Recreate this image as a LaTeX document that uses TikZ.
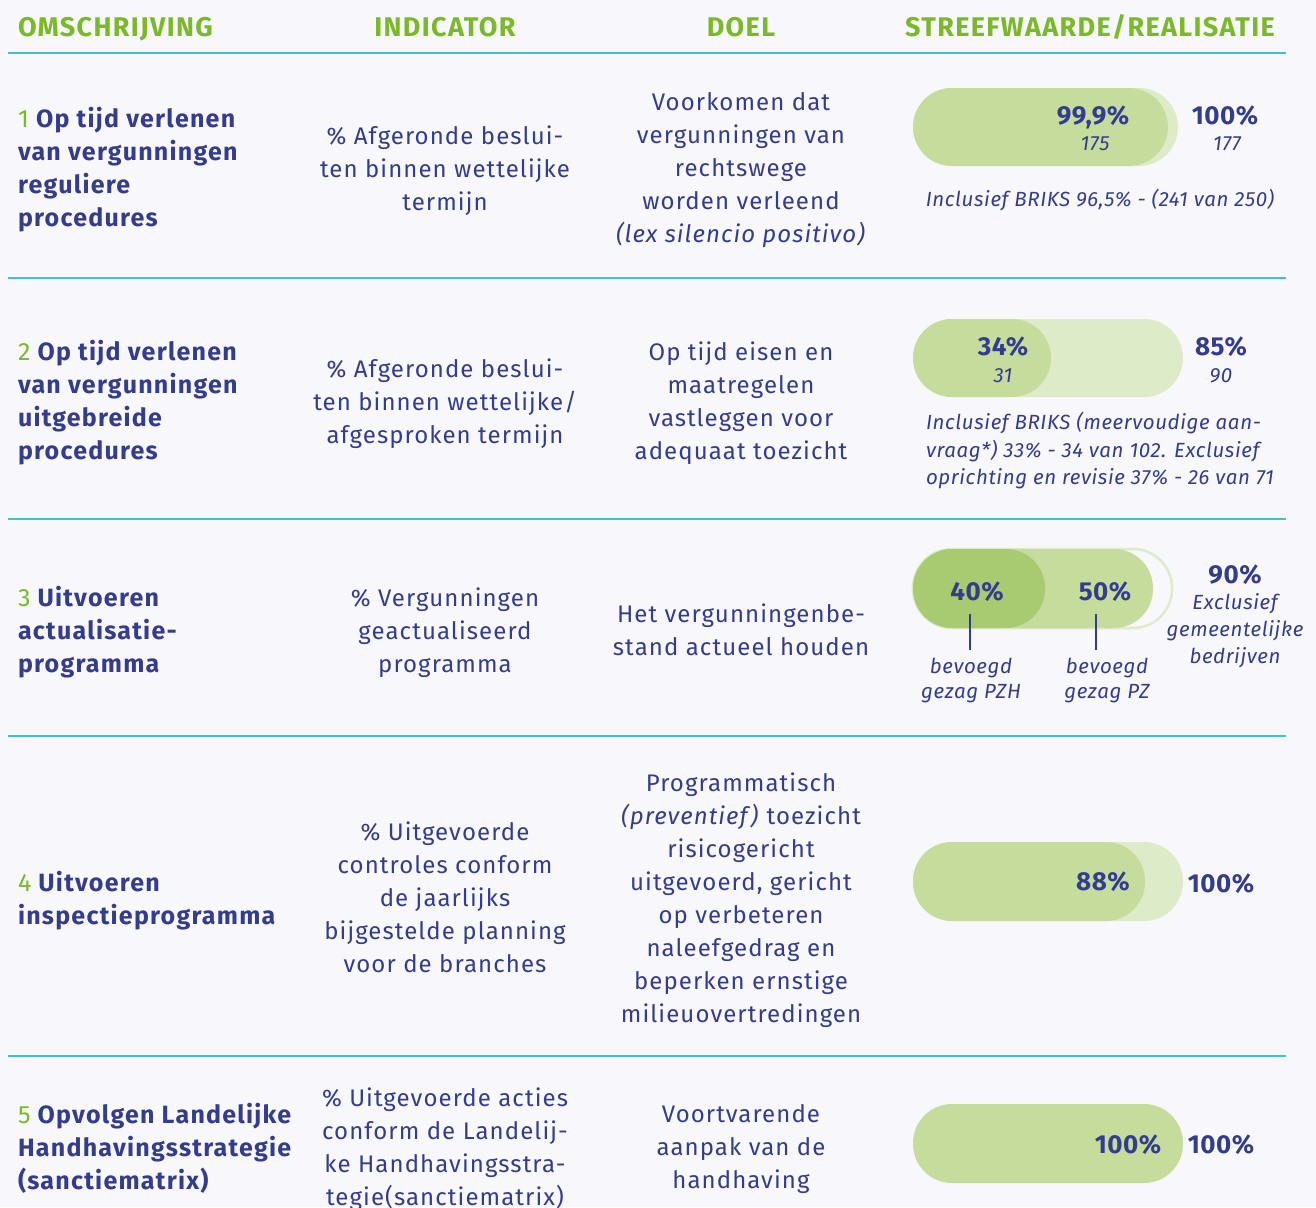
\documentclass[tikz,border=0pt]{standalone}
\usepackage{fontspec}
\setmainfont{Fira Sans}
\newfontfamily\hfont[LetterSpace=5]{Fira Sans}
\newfontfamily\bodyf[LetterSpace=4.5]{Fira Sans}
\newfontfamily\boldf[LetterSpace=5]{Fira Sans}
\newfontfamily\notef[LetterSpace=3]{Fira Sans}
\newfontfamily\bigf[LetterSpace=2]{Fira Sans}
\definecolor{bgc}{HTML}{F7F7FC}
\definecolor{txt}{HTML}{343C8E}
\definecolor{hgreen}{HTML}{7AB929}
\definecolor{lineteal}{HTML}{3FBFD1}
\definecolor{gDark}{HTML}{A8CB71}
\definecolor{gMid}{HTML}{C6DC9D}
\definecolor{gLight}{HTML}{DDEBC8}
\begin{document}
\begin{tikzpicture}[x=1pt,y=-1pt,
  every node/.style={inner sep=0pt, outer sep=0pt, text=txt},
  hdr/.style={font=\hfont\bfseries\fontsize{27}{30}\selectfont, text=hgreen, anchor=base},
  lcol/.style={font=\boldf\bfseries\fontsize{25}{33}\selectfont, align=left, anchor=north west, execute at begin node=\strut},
  ccol/.style={font=\bodyf\fontsize{24}{33}\selectfont, align=center, anchor=north, execute at begin node=\strut},
  big/.style={font=\bigf\bfseries\fontsize{26}{30}\selectfont, anchor=base},
  sub/.style={font=\notef\itshape\fontsize{20.5}{27}\selectfont, anchor=base},
  note/.style={font=\notef\itshape\fontsize{20.5}{27.5}\selectfont, align=left, anchor=north west, execute at begin node=\strut},
  notec/.style={font=\notef\itshape\fontsize{20.5}{27}\selectfont, align=center, anchor=north, execute at begin node=\strut},
  lbl/.style={font=\notef\itshape\fontsize{20.5}{25}\selectfont, align=center, anchor=north, execute at begin node=\strut},
  sep/.style={draw=lineteal, line width=2pt},
  pill/.style={rounded corners=39pt},
  tick/.style={draw=txt, line width=1.2pt}
]
\fill[bgc] (0,0) rectangle (1316,1207);
\useasboundingbox (0,0) rectangle (1316,1207);

% header
\node[hdr, anchor=base west] (h1) at (18,37) {OMSCHRIJVING};
\node[hdr] (h2) at (445,37) {INDICATOR};
\node[hdr] (h3) at (741,37) {DOEL};
\node[hdr] (h4) at (1090,37) {STREEFWAARDE/REALISATIE};

% separators
\foreach \yy in {53,278,519,736,1056} \draw[sep] (8,\yy) -- (1286,\yy);

% column 1
\node[lcol] (r1a) at (18,107) {{\color{hgreen}\mdseries 1} Op tijd verlenen\\van vergunningen\\reguliere\\procedures};
\node[lcol] (r2a) at (18,340) {{\color{hgreen}\mdseries 2} Op tijd verlenen\\van vergunningen\\uitgebreide\\procedures};
\node[lcol] (r3a) at (18,586) {{\color{hgreen}\mdseries 3} Uitvoeren\\actualisatie-\\programma};
\node[lcol] (r4a) at (18,871) {{\color{hgreen}\mdseries 4} Uitvoeren\\inspectieprogramma};
\node[lcol] (r5a) at (18,1103) {{\color{hgreen}\mdseries 5} Opvolgen Landelijke\\Handhavingsstrategie\\(sanctiematrix)};

% column 2
\node[ccol] (r1b) at (445,125.5) {\% Afgeronde beslui-\\ten binnen wettelijke\\termijn};
\node[ccol] (r2b) at (445,358.5) {\% Afgeronde beslui-\\ten binnen wettelijke/\\afgesproken termijn};
\node[ccol] (r3b) at (445,587.5) {\% Vergunningen\\geactualiseerd\\programma};
\node[ccol] (r4b) at (445,821.5) {\% Uitgevoerde\\controles conform\\de jaarlijks\\bijgestelde planning\\voor de branches};
\node[ccol] (r5b) at (445,1087.5) {\% Uitgevoerde acties\\conform de Landelij-\\ke Handhavingsstra-\\tegie(sanctiematrix)};

% column 3
\node[ccol] (r1c) at (741,92.5) {Voorkomen dat\\vergunningen van\\rechtswege\\worden verleend\\\textit{(lex silencio positivo)}};
\node[ccol] (r2c) at (741,341.5) {Op tijd eisen en\\maatregelen\\vastleggen voor\\adequaat toezicht};
\node[ccol] (r3c) at (741,603.5) {Het vergunningenbe-\\stand actueel houden};
\node[ccol] (r4c) at (741,772.5) {Programmatisch\\\textit{(preventief)} toezicht\\risicogericht\\uitgevoerd, gericht\\op verbeteren\\naleefgedrag en\\beperken ernstige\\milieuovertredingen};
\node[ccol] (r5c) at (741,1104.5) {Voortvarende\\aanpak van de\\handhaving};

% row 1 bars
\fill[gLight, pill] (913,88) rectangle (1178,166);
\fill[gMid, pill] (913,88) rectangle (1168,166);
\node[big] (v1a) at (1093,124) {99,9\%};
\node[sub] (v1b) at (1095,150) {175};
\node[big] (v1c) at (1225,124) {100\%};
\node[sub] (v1d) at (1227,150) {177};
\node[sub] (n1) at (1100,206) {Inclusief BRIKS 96,5\% - (241 van 250)};

% row 2 bars
\fill[gLight, pill] (913,319) rectangle (1183,397);
\fill[gMid, pill] (913,319) rectangle (1051,397);
\node[big] (v2a) at (1003,355) {34\%};
\node[sub] (v2b) at (1003,382) {31};
\node[big] (v2c) at (1221,355) {85\%};
\node[sub] (v2d) at (1221,382) {90};
\node[note] (n2) at (926,412.25) {Inclusief BRIKS (meervoudige aan-\\vraag*) 33\% - 34 van 102. Exclusief\\oprichting en revisie 37\% - 26 van 71};

% row 3 bars
\draw[gLight, line width=2.5pt, fill=bgc, pill] (913,549) rectangle (1172,628);
\fill[gMid, pill] (913,549) rectangle (1153,628);
\fill[gDark, pill] (913,549) rectangle (1045,628);
\node[big] (v3a) at (977,600) {40\%};
\node[big] (v3b) at (1105,600) {50\%};
\coordinate (t1a) at (970,614); \coordinate (t1b) at (970,650);
\coordinate (t2a) at (1096,614); \coordinate (t2b) at (1096,650);
\draw[tick] (t1a) -- (t1b);
\draw[tick] (t2a) -- (t2b);
\node[lbl] (l1) at (971,658.5) {bevoegd\\gezag PZH};
\node[lbl] (l2) at (1107,658.5) {bevoegd\\gezag PZ};
\node[big] (v3c) at (1235,583) {90\%};
\node[notec] (n3) at (1235,593.1) {Exclusief\\gemeentelijke\\bedrijven};

% row 4 bars
\fill[gLight, pill] (913,842) rectangle (1183,921);
\fill[gMid, pill] (913,842) rectangle (1145,921);
\node[big] (v4a) at (1103,890) {88\%};
\node[big] (v4b) at (1221,892) {100\%};

% row 5 bars
\fill[gMid, pill] (913,1104) rectangle (1183,1183);
\node[big] (v5a) at (1128,1153) {100\%};
\node[big] (v5b) at (1221,1153) {100\%};
\end{tikzpicture}
\end{document}
